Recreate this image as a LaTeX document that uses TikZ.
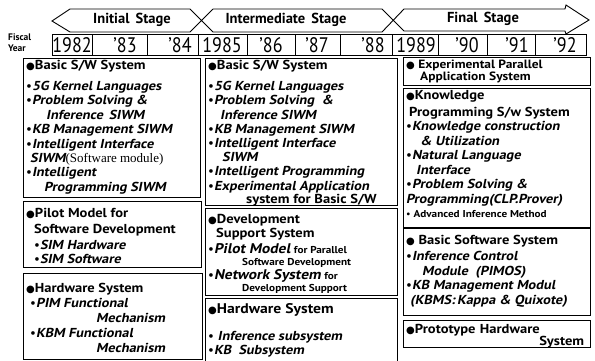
\documentclass[tikz,border=0pt]{standalone}
\usepackage{fontspec}
\setmainfont{PT Sans}
\newfontfamily\bitfont{PT Sans Bold}[FakeStretch=1.1, FakeSlant=0.2]
\newfontfamily\bupfont{PT Sans Bold}[FakeStretch=1.12]
\newfontfamily\plainfont{PT Sans}
\newfontfamily\yearfont{PT Sans}[FakeStretch=0.86]
\newfontfamily\symfont{DejaVu Sans}
\newfontfamily\seriffont{Liberation Serif}

% heading dot, item bullet and upright bold text
\newcommand\hdot{{\symfont\fontsize{10}{10}\selectfont ●}}
\newcommand\bul{{\plainfont •}}
\newcommand\U[1]{{\bupfont #1}}
\newcommand\smallbf[1]{{\bupfont\fontsize{10}{11}\selectfont #1}}

\tikzset{
  panel/.style={draw, line width=0.9pt, inner sep=0pt, anchor=north west},
  cell/.style={draw, line width=0.9pt, inner sep=0pt, anchor=north west, minimum height=21pt},
  txt/.style={anchor=north west, inner sep=0pt, align=left,
              font=\bitfont\fontsize{13}{14.5}\selectfont},
  yr/.style={inner sep=0pt, font=\yearfont\fontsize{21}{21}\selectfont},
  stage/.style={inner sep=0pt, font=\plainfont\fontsize{14.5}{14.5}\selectfont\bfseries},
  arrowline/.style={line width=0.9pt, line join=miter},
}

\begin{document}
\begin{tikzpicture}[x=1pt,y=-1pt]
\useasboundingbox (0,0) rectangle (595,360);

% stage arrows
\draw[arrowline] (213,9) -- (190,32) -- (70,32) -- (52,21) -- (70,9) -- (190,9) -- (213,32) -- (382,32) -- (404,9) -- (565,9) -- (566,5) -- (589,20) -- (566,34) -- (565,31) -- (404,31) -- (382,9) -- (213,9);
\node[stage] (s1) at (132,20) {Initial\, Stage};
\node[stage] (s2) at (286,20) {Intermediate\, Stage};
\node[stage] (s3) at (483,19) {Final\, Stage};

% fiscal years
\node[anchor=north west, inner sep=0pt, align=left, font=\plainfont\fontsize{9.5}{11}\selectfont\bfseries] (fy) at (8,34) {Fiscal\\Year};
\node[cell, minimum width=40pt] (y1) at (52,34) {};
\node[cell, minimum width=55pt] (y2) at (92,34) {};
\node[cell, minimum width=51pt] (y3) at (147,34) {};
\node[cell, minimum width=49pt] (y4) at (198,34) {};
\node[cell, minimum width=48pt] (y5) at (247,34) {};
\node[cell, minimum width=45pt] (y6) at (295,34) {};
\node[cell, minimum width=52pt] (y7) at (340,34) {};
\node[cell, minimum width=46pt] (y8) at (392,34) {};
\node[cell, minimum width=49pt] (y9) at (438,34) {};
\node[cell, minimum width=48pt] (y10) at (487,34) {};
\node[cell, minimum width=51pt] (y11) at (535,34) {};
\node[yr] at (72,45) {1982};
\node[yr] at (125,45) {’83};
\node[yr] at (180,45) {’84};
\node[yr] at (222,45) {1985};
\node[yr] at (271,45) {’86};
\node[yr] at (317,45) {’87};
\node[yr] at (373,45) {’88};
\node[yr] at (416,45) {1989};
\node[yr] at (467,45) {’90};
\node[yr] at (517,45) {’91};
\node[yr] at (565,45) {’92};

% column 1
\node[panel, minimum width=177pt, minimum height=139pt] (a1) at (23,58) {};
\node[panel, minimum width=178pt, minimum height=66pt] (a2) at (23,201) {};
\node[panel, minimum width=179pt, minimum height=86pt] (a3) at (23,273) {};

\node[txt] (ta1) at (26,60) {%
  \hdot\U{Basic S/W System}\\[6.5pt]
  \bul5G Kernel Languages\\
  \bul Problem Solving \&\\
  \hspace*{20pt}Inference\, SIWM\\
  \bul KB Management SIWM\\
  \bul Intelligent Interface\\
  \hspace*{4pt}SIWM{\seriffont\upshape\mdseries (Software module)}\\[-0.5pt]
  \bul Intelligent\\
  \hspace*{18pt}Programming SIWM};

\node[txt] (ta2) at (26,208) {%
  \hdot\U{Pilot Model for}\\[2pt]
  \hspace*{8pt}\U{Software Development}\\[1pt]
  \hspace*{8pt}\bul SIM Hardware\\
  \hspace*{8pt}\bul SIM Software};

\node[txt, font=\bitfont\fontsize{13}{15}\selectfont] (ta3) at (26,283) {%
  \hdot\U{Hardware System}\\
  \hspace*{4pt}\bul PIM Functional\\
  \hspace*{70pt}Mechanism\\
  \hspace*{4pt}\bul KBM Functional\\
  \hspace*{70pt}Mechanism};

% column 2
\node[panel, minimum width=192pt, minimum height=147pt] (b1) at (205,58) {};
\node[panel, minimum width=192pt, minimum height=87pt] (b2) at (205,208) {};
\node[panel, minimum width=192pt, minimum height=70pt] (b3) at (205,298) {};

\node[txt] (tb1) at (208,60) {%
  \hdot\U{Basic S/W System}\\[6.5pt]
  \bul5G Kernel Languages\\
  \bul Problem Solving\ \ \&\\
  \hspace*{12pt}Inference SIWM\\[-0.5pt]
  \bul KB Management SIWM\\
  \bul Intelligent Interface\\[-0.5pt]
  \hspace*{14pt}SIWM\\[-0.5pt]
  \bul Intelligent Programming\\
  \bul Experimental Application\\[-1pt]
  \hspace*{38pt}\U{system for Basic S/W}};

\node[txt] (tb2) at (208,214) {%
  \hdot\U{Development}\\
  \hspace*{8pt}\U{Support System}\\[1pt]
  \bul{\fontsize{14}{14}\selectfont Pilot Model} \smallbf{for Parallel}\\[-2pt]
  \hspace*{34pt}\smallbf{Software Development}\\[-1pt]
  \bul{\fontsize{14}{14}\selectfont Network System} \smallbf{for}\\[-2pt]
  \hspace*{34pt}\smallbf{Development Support}};

\node[txt] (tb3) at (208,303) {%
  \hdot{\bupfont\fontsize{14}{14}\selectfont Hardware System}\\[13pt]
  \bul\ Inference subsystem\\[-1pt]
  \bul KB\ \ Subsystem};

% column 3
\node[panel, minimum width=187pt, minimum height=28pt] (c1) at (403,57) {};
\node[panel, minimum width=187pt, minimum height=139pt] (c2) at (403,88) {};
\node[panel, minimum width=187pt, minimum height=87pt] (c3) at (403,228) {};
\node[panel, minimum width=187pt, minimum height=27pt] (c4) at (403,320) {};

\node[txt, font=\bupfont\fontsize{12}{12}\selectfont] (tc1) at (406,60) {%
  \hdot\ Experimental Parallel\\
  \hspace*{14pt}Application System};

\node[txt] (tc2) at (406,90) {%
  \hdot\U{Knowledge}\\[2.5pt]
  \hspace*{3pt}\U{Programming S/w System}\\
  \bul Knowledge\ construction\\
  \hspace*{14pt}\&\ Utilization\\
  \bul Natural Language\\
  \hspace*{10pt}Interface\\
  \bul Problem\ Solving \&\\
  Programming(CLP.Prover)\\
  \smallbf{\bul\ Advanced Inference Method}};

\node[txt] (tc3) at (406,235) {%
  \hdot\ \U{Basic Software System}\\[2pt]
  \bul Inference Control\\
  \hspace*{16pt}Module\ \ (PIMOS)\\
  \bul KB Management Modul\\[0.5pt]
  \hspace*{4pt}(KBMS:\,Kappa \& Quixote)};

\node[txt, text width=178pt] (tc4) at (406,324) {%
  \hdot\U{Prototype Hardware}\\[-2pt]
  \hfill\U{System}};
\end{tikzpicture}
\end{document}
